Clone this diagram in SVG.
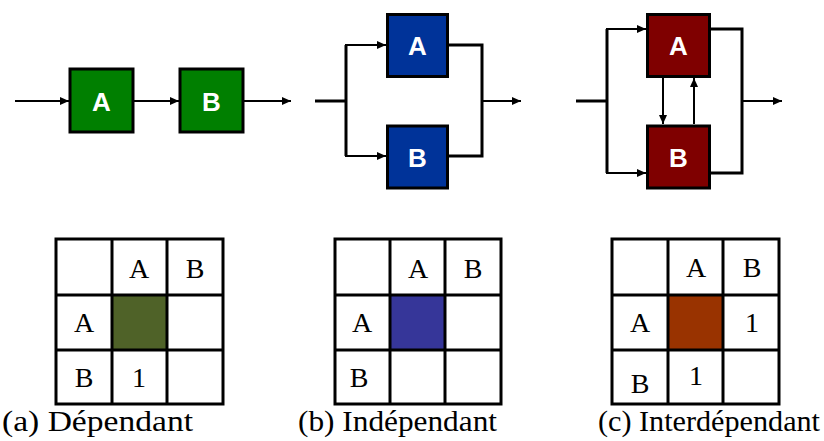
<svg xmlns="http://www.w3.org/2000/svg" width="824" height="441" viewBox="0 0 824 441">
<defs>
<marker id="arr" markerUnits="userSpaceOnUse" markerWidth="9" markerHeight="8" refX="9" refY="4" orient="auto">
<path d="M0,0 L9,4 L0,8 z" fill="#000"/>
</marker>
<style>
.box{stroke:#000;stroke-width:3}
.green{fill:#007f00}
.blue{fill:#003399}
.red{fill:#7f0000}
.lbl{font-family:"Liberation Sans",Arial,sans-serif;font-weight:bold;font-size:26px;fill:#fff;text-anchor:middle}
.thin{fill:none;stroke:#000;stroke-width:2}
.thick{fill:none;stroke:#000;stroke-width:3}
.arrow{fill:none;stroke:#000;stroke-width:2;marker-end:url(#arr)}
.grid{fill:none;stroke:#000;stroke-width:3}
.cell{font-family:"Liberation Serif","Times New Roman",serif;font-size:28px;fill:#000;text-anchor:middle}
.cap{font-family:"Liberation Serif","Times New Roman",serif;font-size:30px;fill:#000}
</style>
</defs>
<rect width="824" height="441" fill="#fff"/>

<g id="connectors">
<line class="arrow" x1="15" y1="101" x2="69" y2="101"/>
<line class="arrow" x1="134" y1="101" x2="179" y2="101"/>
<line class="arrow" x1="244" y1="101" x2="291" y2="101"/>

<line class="thick" x1="315" y1="101" x2="346" y2="101"/>
<line class="thick" x1="346" y1="45" x2="346" y2="156"/>
<line class="arrow" x1="345" y1="45" x2="386" y2="45"/>
<line class="arrow" x1="345" y1="156" x2="386" y2="156"/>
<polyline class="thick" points="449,45 482,45 482,156 449,156"/>
<line class="arrow" x1="482" y1="101" x2="521" y2="101"/>

<line class="thick" x1="576" y1="101" x2="607" y2="101"/>
<line class="thick" x1="607" y1="29" x2="607" y2="173"/>
<line class="arrow" x1="606" y1="29" x2="646" y2="29"/>
<line class="arrow" x1="606" y1="173" x2="646" y2="173"/>
<polyline class="thick" points="711,29 742,29 742,173 711,173"/>
<line class="arrow" x1="742" y1="101" x2="782" y2="101"/>
<line class="arrow" x1="663" y1="78" x2="663" y2="124"/>
<line class="arrow" x1="694" y1="124" x2="694" y2="78"/>
</g>

<g id="a-A"><rect class="box green" x="70" y="69" width="63" height="63"/><text class="lbl" x="101.5" y="111">A</text></g>
<g id="a-B"><rect class="box green" x="180" y="69" width="63" height="63"/><text class="lbl" x="211.5" y="111">B</text></g>

<g id="b-A"><rect class="box blue" x="387.5" y="14.5" width="60" height="62"/><text class="lbl" x="417.5" y="55">A</text></g>
<g id="b-B"><rect class="box blue" x="387.5" y="126" width="60" height="62"/><text class="lbl" x="417.5" y="167">B</text></g>

<g id="c-A"><rect class="box red" x="647.5" y="14.5" width="62" height="62"/><text class="lbl" x="678.5" y="55">A</text></g>
<g id="c-B"><rect class="box red" x="647.5" y="126" width="62" height="62"/><text class="lbl" x="678.5" y="167">B</text></g>

<g id="table-a">
<rect x="112" y="295" width="55" height="55" fill="#4f6228"/>
<rect class="grid" x="56" y="239" width="167" height="165"/>
<line class="grid" x1="112" y1="239" x2="112" y2="404"/>
<line class="grid" x1="167" y1="239" x2="167" y2="404"/>
<line class="grid" x1="56" y1="295" x2="223" y2="295"/>
<line class="grid" x1="56" y1="350" x2="223" y2="350"/>
<text class="cell" x="139" y="278">A</text>
<text class="cell" x="195" y="278">B</text>
<text class="cell" x="84" y="332">A</text>
<text class="cell" x="84" y="387">B</text>
<text class="cell" x="139" y="387">1</text>
<text class="cap" x="2" y="431" textLength="191" lengthAdjust="spacingAndGlyphs">(a) Dépendant</text>
</g>

<g id="table-b">
<rect x="390" y="295" width="55" height="55" fill="#363699"/>
<rect class="grid" x="335" y="239" width="166" height="165"/>
<line class="grid" x1="390" y1="239" x2="390" y2="404"/>
<line class="grid" x1="445" y1="239" x2="445" y2="404"/>
<line class="grid" x1="335" y1="295" x2="501" y2="295"/>
<line class="grid" x1="335" y1="350" x2="501" y2="350"/>
<text class="cell" x="418" y="278">A</text>
<text class="cell" x="473" y="278">B</text>
<text class="cell" x="362" y="332">A</text>
<text class="cell" x="359" y="387">B</text>
<text class="cap" x="298" y="431" textLength="199" lengthAdjust="spacingAndGlyphs">(b) Indépendant</text>
</g>

<g id="table-c">
<rect x="668" y="295" width="55" height="55" fill="#993300"/>
<rect class="grid" x="612" y="239" width="167" height="165"/>
<line class="grid" x1="668" y1="239" x2="668" y2="404"/>
<line class="grid" x1="723" y1="239" x2="723" y2="404"/>
<line class="grid" x1="612" y1="295" x2="779" y2="295"/>
<line class="grid" x1="612" y1="350" x2="779" y2="350"/>
<text class="cell" x="696" y="277">A</text>
<text class="cell" x="752" y="277">B</text>
<text class="cell" x="640" y="332">A</text>
<text class="cell" x="752" y="332">1</text>
<text class="cell" x="640" y="393">B</text>
<text class="cell" x="696" y="385">1</text>
<text class="cap" x="598" y="431" textLength="222" lengthAdjust="spacingAndGlyphs">(c) Interdépendant</text>
</g>
</svg>
